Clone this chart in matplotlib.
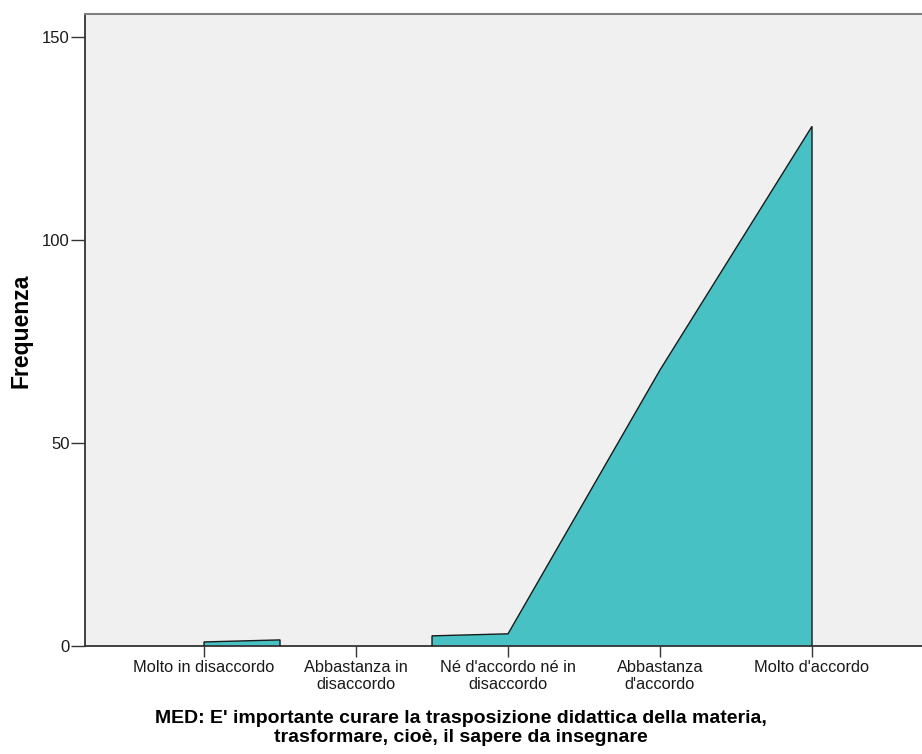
import numpy as np
import matplotlib
matplotlib.use("Agg")
import matplotlib.pyplot as plt

plt.rcParams['font.family'] = ['Liberation Sans', 'DejaVu Sans']

categories = ["Molto in disaccordo", "Abbastanza in\ndisaccordo",
              "Né d'accordo né in\ndisaccordo", "Abbastanza\nd'accordo",
              "Molto d'accordo"]
counts = [1, np.nan, 3, 68, 128]
y_ticks = [0, 50, 100, 150]
x_title = ("MED: E' importante curare la trasposizione didattica della materia,\n"
           "trasformare, cioè, il sapere da insegnare")
y_title = "Frequenza"

W, H = 922, 754
fig = plt.figure(figsize=(W / 100, H / 100), dpi=100)
left, right, top, bottom = 85, 935, 14, 646
ax = fig.add_axes([left / W, 1 - bottom / H, (right - left) / W, (bottom - top) / H])
ax.set_facecolor('#F0F0F0')

x = np.arange(len(categories), dtype=float)
y = np.array(counts, dtype=float)
valid = ~np.isnan(y)
xv, yv = x[valid], y[valid]

# Each present category occupies half a slot on either side; the outline
# follows the line joining present categories, clipped to those slots.
runs = []
for xi in xv:
    a = max(xi - 0.5, xv.min())
    b = min(xi + 0.5, xv.max())
    if runs and abs(runs[-1][1] - a) < 1e-9:
        runs[-1][1] = b
    else:
        runs.append([a, b])

fill_col = '#48C1C4'
for a, b in runs:
    xs = np.unique(np.concatenate([[a, b], xv[(xv > a) & (xv < b)]]))
    ys = np.interp(xs, xv, yv)
    px = np.concatenate([[a], xs, [b]])
    py = np.concatenate([[0], ys, [0]])
    ax.fill(px, py, facecolor=fill_col, edgecolor='none', zorder=2)
    ax.plot(px, py, color='#1a1a1a', linewidth=1.0, zorder=3,
            solid_joinstyle='miter')

x0 = -0.783
ax.set_xlim(x0, x0 + (right - left) / 152)
ax.set_ylim(0, 150 * (bottom - top) / (bottom - 37))
ax.set_yticks(y_ticks)
ax.set_yticklabels([str(v) for v in y_ticks])
ax.set_xticks(x)
ax.set_xticklabels(categories, fontsize=11.8)
ax.tick_params(axis='y', labelsize=12, length=10, width=1, color='#333333',
               pad=1, labelcolor='#1a1a1a')
ax.tick_params(axis='x', length=8, width=1, color='#333333', pad=2,
               labelcolor='#1a1a1a')

for s in ['left', 'bottom']:
    ax.spines[s].set_color('#333333')
    ax.spines[s].set_linewidth(1.3)
ax.spines['top'].set_color('#808080')
ax.spines['top'].set_linewidth(1.5)
ax.spines['right'].set_visible(False)

fig.text(461 / W, 1 - 728 / H, x_title, ha='center', va='center',
         fontsize=14, fontweight='bold', linespacing=1.1)
fig.text(21 / W, 1 - 331 / H, y_title, ha='center', va='center',
         rotation=90, fontsize=16.5, fontweight='bold')

fig.savefig("out.png", dpi=100, facecolor='white')
